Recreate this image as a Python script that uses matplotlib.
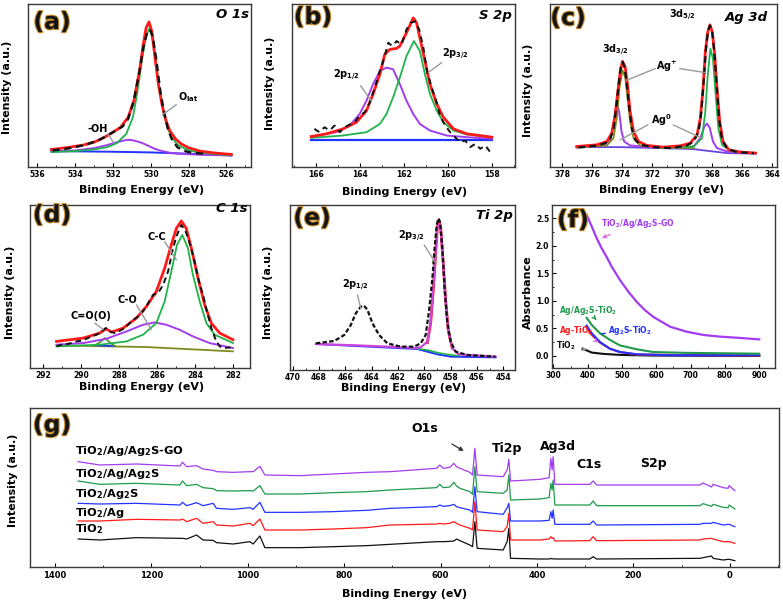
import matplotlib
matplotlib.use('Agg')
import matplotlib.pyplot as plt
import matplotlib.patheffects as pe
from matplotlib.ticker import MultipleLocator, FormatStrFormatter

# ---------------- data ----------------
# (a) O 1s
a_env_e = [535.26, 534.5, 533.6, 533.0, 532.5, 532.0, 531.6, 531.2, 530.9, 530.6, 530.4, 530.25, 530.1, 529.95, 529.8, 529.6, 529.4, 529.2, 529.0, 528.7, 528.4, 528.0, 527.4, 526.6, 525.74]
a_env_i = [53, 58, 66, 75, 88, 105, 120, 150, 200, 290, 370, 420, 438, 410, 340, 250, 185, 140, 110, 85, 70, 58, 48, 42, 38]
a_lat_e = [535.26, 534.0, 533.0, 532.3, 531.8, 531.3, 530.95, 530.7, 530.45, 530.25, 530.06, 529.9, 529.7, 529.5, 529.3, 529.1, 528.9, 528.6, 528.2, 527.6, 526.8, 525.74]
a_lat_i = [45, 48, 53, 60, 72, 100, 150, 230, 330, 395, 420, 385, 300, 220, 160, 115, 90, 68, 55, 45, 40, 35]
a_oh_e = [535.26, 534.0, 533.0, 532.4, 531.9, 531.5, 531.25, 531.0, 530.7, 530.4, 530.1, 529.8, 529.4, 529.0, 528.5, 527.8, 526.8, 525.74]
a_oh_i = [46, 50, 57, 65, 73, 79, 82, 81, 77, 71, 63, 55, 48, 43, 40, 38, 36, 35]
a_bg_e = [535.26, 532.0, 530.0, 528.0, 525.74]
a_bg_i = [48, 46, 44, 40, 35]
a_raw_e = [535.2, 534.6, 534.0, 533.4, 532.8, 532.3, 531.8, 531.5, 531.2, 530.9, 530.6, 530.4, 530.2, 530.05, 529.9, 529.7, 529.5, 529.3, 529.1, 528.9, 528.6, 528.3, 528.0, 527.6, 527.2]
a_raw_i = [50, 54, 60, 68, 80, 95, 112, 122, 145, 200, 290, 360, 405, 415, 395, 320, 230, 165, 115, 85, 60, 50, 45, 42, 40]

# (b) S 2p
b_env_e = [166.23, 165.54, 164.78, 164.17, 163.71, 163.41, 163.10, 162.88, 162.65, 162.34, 162.19, 161.89, 161.58, 161.43, 161.28, 161.05, 160.82, 160.51, 160.21, 159.75, 159.14, 158.0]
b_env_i = [92, 100, 115, 135, 170, 220, 280, 340, 355, 358, 365, 405, 450, 435, 390, 320, 250, 190, 150, 115, 100, 90]
b_p32_e = [166.23, 164.78, 163.71, 163.10, 162.8, 162.5, 162.19, 161.89, 161.55, 161.28, 161.05, 160.82, 160.51, 160.21, 159.75, 159.14, 158.0]
b_p32_i = [88, 95, 105, 130, 160, 210, 270, 335, 380, 350, 280, 220, 170, 135, 110, 98, 90]
b_p12_e = [166.23, 165.09, 164.48, 164.02, 163.71, 163.41, 163.10, 162.8, 162.5, 162.19, 161.89, 161.58, 161.28, 160.82, 160.06, 159.14, 158.0]
b_p12_i = [92, 105, 125, 160, 200, 250, 290, 300, 295, 250, 200, 160, 130, 110, 95, 90, 85]
b_bg_e = [166.23, 158.0]
b_bg_i = [80, 80]
b_raw_e = [166.08, 165.85, 165.62, 165.39, 165.16, 164.93, 164.70, 164.48, 164.25, 164.02, 163.79, 163.56, 163.33, 163.10, 162.92, 162.72, 162.53, 162.34, 162.11, 161.89, 161.70, 161.50, 161.31, 161.12, 160.94, 160.74, 160.54, 160.36, 160.13, 159.90, 159.68, 159.45, 159.22, 158.99, 158.76, 158.53, 158.30, 158.08]
b_raw_i = [115, 105, 120, 110, 125, 105, 120, 128, 135, 155, 165, 195, 240, 290, 325, 375, 365, 380, 370, 415, 435, 440, 415, 360, 285, 240, 200, 155, 125, 105, 90, 75, 80, 60, 70, 55, 65, 45]

# (c) Ag 3d
c_env_e = [377.02, 375.69, 375.02, 374.69, 374.47, 374.29, 374.13, 373.98, 373.8, 373.64, 373.47, 373.24, 372.91, 372.36, 371.24, 370.13, 369.47, 369.02, 368.8, 368.62, 368.47, 368.31, 368.16, 368.0, 367.84, 367.69, 367.51, 367.29, 366.91, 366.13, 365.13]
c_env_i = [65, 70, 80, 105, 160, 230, 290, 322, 305, 250, 170, 110, 80, 68, 63, 67, 75, 100, 150, 240, 350, 410, 432, 410, 340, 240, 140, 80, 55, 48, 45]
c_agp1_e = [377.02, 375.02, 374.58, 374.36, 374.18, 373.98, 373.8, 373.64, 373.47, 373.24, 372.8, 371.24, 369.24]
c_agp1_i = [62, 68, 90, 150, 240, 295, 275, 210, 140, 90, 68, 62, 60]
c_agp2_e = [371.47, 369.24, 368.69, 368.47, 368.31, 368.13, 367.96, 367.78, 367.6, 367.36, 366.8, 365.13]
c_agp2_i = [60, 65, 90, 170, 280, 360, 330, 220, 120, 70, 52, 45]
c_ag0_e = [377.02, 375.24, 374.8, 374.58, 374.42, 374.33, 374.2, 374.04, 373.87, 373.47, 371.91, 370.13, 369.24, 368.8, 368.53, 368.36, 368.18, 367.96, 367.69, 367.02, 365.13]
c_ag0_i = [62, 68, 85, 130, 180, 192, 170, 110, 80, 68, 62, 60, 65, 90, 125, 134, 122, 80, 60, 50, 45]
c_bg_e = [377.02, 374.13, 371.47, 369.24, 368.36, 367.02, 365.13]
c_bg_i = [63, 63, 60, 57, 52, 45, 43]
c_raw_e = [376.91, 376.36, 375.69, 375.13, 374.8, 374.58, 374.4, 374.24, 374.09, 373.96, 373.82, 373.69, 373.53, 373.36, 373.13, 372.8, 371.91, 370.8, 369.69, 369.24, 368.91, 368.73, 368.58, 368.42, 368.29, 368.16, 368.02, 367.87, 367.71, 367.56, 367.36, 367.02, 366.36, 365.24]
c_raw_i = [62, 64, 68, 75, 88, 115, 180, 250, 305, 320, 300, 250, 180, 120, 85, 70, 63, 60, 68, 80, 110, 170, 260, 360, 415, 430, 415, 350, 250, 150, 85, 58, 48, 45]

# (d) C 1s
d_env_e = [291.30, 289.89, 289.02, 288.70, 288.40, 287.79, 287.09, 286.56, 286.04, 285.60, 285.25, 284.98, 284.72, 284.46, 284.19, 283.84, 283.49, 283.14, 282.70, 282.0]
d_env_i = [80, 90, 105, 118, 108, 120, 150, 185, 230, 300, 370, 420, 442, 420, 360, 270, 190, 135, 105, 85]
d_cc_e = [291.30, 289.02, 287.61, 286.74, 286.04, 285.60, 285.25, 284.95, 284.67, 284.37, 284.11, 283.75, 283.40, 282.96, 282.0]
d_cc_i = [65, 70, 80, 100, 135, 200, 290, 370, 400, 360, 280, 200, 135, 100, 75]
d_co_e = [291.30, 289.89, 288.67, 287.61, 286.74, 286.12, 285.51, 284.81, 284.11, 283.23, 282.0]
d_co_i = [70, 75, 88, 110, 130, 137, 130, 115, 95, 75, 60]
d_coo_e = [289.28, 289.02, 288.75, 288.49, 288.23]
d_coo_i = [68, 77, 90, 77, 66]
d_blue_e = [289.28, 288.23]
d_blue_i = [68, 66]
d_bg_e = [291.30, 286.56, 282.0]
d_bg_i = [68, 63, 50]
d_raw_e = [291.30, 291.04, 290.77, 290.51, 290.25, 289.98, 289.72, 289.46, 289.19, 288.93, 288.70, 288.49, 288.23, 287.96, 287.70, 287.44, 287.26, 287.0, 286.74, 286.47, 286.21, 285.95, 285.68, 285.42, 285.16, 284.95, 284.72, 284.49, 284.25, 284.02, 283.79, 283.58, 283.37, 283.14, 282.91, 282.70, 282.44, 282.18, 282.0]
d_raw_i = [65, 70, 72, 75, 80, 82, 88, 95, 100, 110, 120, 110, 105, 112, 120, 135, 145, 155, 170, 195, 220, 225, 250, 290, 360, 400, 430, 410, 370, 320, 260, 220, 170, 120, 85, 65, 60, 62, 55]

# (e) Ti 2p
e_raw_e = [468.23, 466.84, 466.08, 465.58, 465.2, 464.82, 464.57, 464.31, 463.93, 463.43, 462.8, 461.78, 460.77, 460.27, 459.89, 459.64, 459.38, 459.21, 459.05, 458.93, 458.8, 458.62, 458.45, 458.25, 457.99, 457.61, 456.73, 454.58]
e_raw_i = [80, 87, 105, 135, 170, 190, 193, 180, 140, 105, 80, 70, 70, 80, 105, 175, 275, 365, 435, 455, 445, 365, 245, 145, 85, 55, 45, 40]
e_fit_e = [468.23, 465.2, 462.8, 460.77, 460.27, 459.76, 459.51, 459.31, 459.13, 459.0, 458.88, 458.75, 458.57, 458.37, 458.17, 457.87, 457.36, 454.58]
e_fit_i = [78, 74, 70, 66, 68, 85, 145, 245, 355, 425, 440, 425, 325, 205, 115, 65, 47, 40]
e_red_e = [459.76, 459.51, 459.31, 459.13, 459.0, 458.88, 458.75, 458.57, 458.37, 458.17, 457.87]
e_red_i = [82, 140, 240, 350, 430, 447, 430, 330, 210, 118, 66]
e_bg_e = [468.23, 460.52, 459.76, 459.0, 457.99, 454.58]
e_bg_i = [78, 63, 55, 47, 40, 38]
e_grn_e = [460.52, 459.76, 459.0, 458.0, 457.36]
e_grn_i = [64, 60, 52, 45, 43]

# (f) absorbance
f_go_wl = [397, 412, 426, 441, 455, 470, 494, 518, 543, 567, 591, 640, 688, 737, 785, 834, 900]
f_go = [2.56, 2.35, 2.14, 1.95, 1.80, 1.62, 1.38, 1.17, 0.98, 0.83, 0.71, 0.53, 0.44, 0.38, 0.35, 0.33, 0.30]
f_agag2s_wl = [397, 412, 436, 465, 494, 543, 591, 688, 900]
f_agag2s = [0.69, 0.56, 0.41, 0.29, 0.19, 0.12, 0.07, 0.055, 0.04]
f_ag2s_wl = [397, 412, 436, 465, 494, 543, 640, 900]
f_ag2s = [0.55, 0.41, 0.25, 0.13, 0.07, 0.03, 0.012, 0.01]
f_ag_wl = [397, 412, 436, 465, 494, 543, 900]
f_ag = [0.51, 0.38, 0.24, 0.13, 0.07, 0.024, 0.006]
f_tio2_wl = [385, 397, 412, 446, 494, 591, 900]
f_tio2 = [0.13, 0.10, 0.06, 0.036, 0.018, 0.006, 0.0]

# (g) survey spectra
g_energy = [1352, 1307, 1231, 1141, 1135.5, 1127, 1106.5, 1093, 1072, 1065, 1030.5, 996, 989, 975, 964.7, 892, 823, 754, 705,
            608.5, 601.7, 594.8, 581, 572.6, 567, 560, 539.4, 533.8, 529, 524.3, 470.3, 462, 458.5, 455, 394, 375, 371.4,
            368.7, 366.6, 363, 290.5, 283.6, 276.6, 62.2, 55.4, 38, 34.6, 13.9, 3.5, 1.5, -10.4]
g_go = [320, 310, 313, 307, 318, 305, 308, 298, 294, 290, 288, 290, 290, 306, 280, 278, 283, 288, 290, 300, 310, 300, 303, 315, 305,
        300, 288, 280, 360, 280, 275, 295, 327, 262, 267, 272, 330, 295, 335, 252, 252, 262, 250, 250, 256, 244, 252, 242, 240, 248, 233]
g_ag_ag2s = [262, 252, 255, 250, 262, 248, 252, 242, 239, 233, 232, 233, 232, 248, 223, 223, 227, 230, 235, 242, 252, 242, 244, 258, 247,
             240, 230, 222, 305, 230, 225, 235, 280, 205, 208, 212, 255, 235, 265, 190, 190, 202, 188, 188, 194, 186, 192, 183, 182, 190, 178]
g_ag2s = [195, 193, 195, 190, 198, 188, 197, 188, 195, 180, 177, 182, 177, 198, 168, 168, 170, 174, 180, 185, 190, 186, 188, 192, 185,
          182, 175, 168, 245, 170, 162, 182, 195, 142, 142, 144, 170, 150, 175, 132, 132, 142, 130, 132, 135, 135, 138, 130, 132, 132, 125]
g_ag = [142, 142, 147, 145, 148, 140, 150, 135, 140, 130, 127, 135, 128, 148, 115, 115, 118, 122, 130, 133, 135, 133, 135, 140, 135,
        130, 120, 115, 200, 115, 110, 125, 165, 85, 85, 88, 95, 90, 92, 82, 83, 95, 83, 85, 88, 90, 88, 80, 80, 80, 75]
g_tio2 = [88, 85, 92, 90, 90, 88, 100, 85, 84, 77, 73, 80, 73, 97, 62, 62, 65, 68, 72, 80, 80, 80, 81, 82, 88,
          83, 70, 65, 140, 60, 55, 80, 120, 30, 28, 28, 30, 28, 29, 28, 28, 35, 28, 30, 32, 37, 30, 25, 27, 27, 23]
g_names = ['TiO$_2$/Ag/Ag$_2$S-GO', 'TiO$_2$/Ag/Ag$_2$S', 'TiO$_2$/Ag$_2$S', 'TiO$_2$/Ag', 'TiO$_2$']

# ---------------- style ----------------
plt.rcParams.update({
    'font.family': ['DejaVu Sans'], 'font.weight': 'bold',
    'mathtext.fontset': 'dejavusans', 'mathtext.default': 'bf',
    'axes.linewidth': 1.0, 'axes.edgecolor': '#3a3a3a',
})
RED = '#ff1a1a'; GREEN = '#1fb24a'; PURPLE = '#a23cf0'; BLUE = '#2233ff'
OLIVE = '#7f8a1c'; MAGENTA = '#cc44dd'; GRAY = '#9a9a9a'; BLACK = '#111111'

W, H = 783, 604
fig = plt.figure(figsize=(W / 100, H / 100), dpi=100)


def make_ax(box, xlim, ylim, major, minor, yticks=False):
    L, T, R, B = box
    ax = fig.add_axes([L / W, 1 - B / H, (R - L) / W, (B - T) / H])
    ax.set_xlim(*xlim)
    ax.set_ylim(*ylim)
    ax.xaxis.set_major_locator(MultipleLocator(major))
    ax.xaxis.set_minor_locator(MultipleLocator(minor))
    ax.tick_params(axis='x', which='major', direction='in', length=3, width=0.8, labelsize=5.5, pad=2.5)
    ax.tick_params(axis='x', which='minor', direction='in', length=1.5, width=0.6)
    if not yticks:
        ax.set_yticks([])
    return ax


def fr(box, x, y):
    L, T, R, B = box
    return ((x - L) / (R - L), (B - y) / (B - T))


def labels(ax, box, xl, yl, xtext='Binding Energy (eV)', ytext='Intensity (a.u.)'):
    if xl is not None:
        ax.set_xlabel(xtext, fontsize=8, fontweight='bold')
        ax.xaxis.set_label_coords(*fr(box, *xl))
        ax.xaxis.label.set_va('center')
    ax.set_ylabel(ytext, fontsize=8, fontweight='bold')
    ax.yaxis.set_label_coords(*fr(box, *yl))
    ax.yaxis.label.set_va('center')


def letter(ax, box, txt, x, y):
    ax.text(*fr(box, x, y), txt, transform=ax.transAxes, fontsize=17, fontweight='bold',
            color='#151515', ha='center', va='center', zorder=10,
            path_effects=[pe.withStroke(linewidth=1.6, foreground='#c8902e')])


def title(ax, box, txt, x, y):
    ax.text(*fr(box, x, y), txt, transform=ax.transAxes, fontsize=9.5, fontweight='bold',
            fontstyle='italic', ha='right', va='center', zorder=10)


def note(ax, txt, xy, xytext, fs=7, color='black', lc=GRAY, arrow='-'):
    ax.annotate(txt, xy=xy, xytext=xytext, fontsize=fs, fontweight='bold', color=color,
                ha='center', va='center', zorder=12,
                arrowprops=dict(arrowstyle=arrow, color=lc, lw=1.0, shrinkA=4, shrinkB=0))


def leader(ax, p0, p1, lc=GRAY, arrow='-'):
    ax.annotate('', xy=p1, xytext=p0, zorder=11,
                arrowprops=dict(arrowstyle=arrow, color=lc, lw=1.0, shrinkA=0, shrinkB=0))


# ---------------- (a) ----------------
box_a = (28, 4, 251, 167)
ax = make_ax(box_a, (536.5, 524.7), (0, 492), 2, 1)
ax.plot(a_bg_e, a_bg_i, color=BLUE, lw=1.4)
ax.plot(a_oh_e, a_oh_i, color=PURPLE, lw=1.4)
ax.plot(a_lat_e, a_lat_i, color=GREEN, lw=1.3)
ax.plot(a_env_e, a_env_i, color=RED, lw=2.0)
ax.plot(a_raw_e, a_raw_i, color=BLACK, lw=1.7, ls=(0, (3, 2)))
ax.text(532.79, 115, '-OH', fontsize=7, fontweight='bold', ha='center', va='center')
leader(ax, (532.26, 100), (531.96, 72))
ax.text(528.03, 210, 'O$_{lat}$', fontsize=7, fontweight='bold', ha='center', va='center')
leader(ax, (528.65, 188), (529.39, 158))
labels(ax, box_a, (142, 190), (7, 87))
letter(ax, box_a, '(a)', 52, 22)
title(ax, box_a, 'O 1s', 249, 15)

# ---------------- (b) ----------------
box_b = (292, 4, 515, 167)
ax = make_ax(box_b, (167.1, 156.95), (0, 492), 2, 1)
ax.plot(b_bg_e, b_bg_i, color=BLUE, lw=1.6)
ax.plot(b_p12_e, b_p12_i, color=PURPLE, lw=1.4)
ax.plot(b_p32_e, b_p32_i, color=GREEN, lw=1.3)
ax.plot(b_env_e, b_env_i, color=RED, lw=2.0)
ax.plot(b_raw_e, b_raw_i, color=BLACK, lw=1.4, ls=(0, (3, 2.5)))
ax.text(164.6, 275, '2p$_{1/2}$', fontsize=7, fontweight='bold', ha='center', va='center')
leader(ax, (163.98, 245), (163.49, 200))
ax.text(159.68, 340, '2p$_{3/2}$', fontsize=7, fontweight='bold', ha='center', va='center')
leader(ax, (160.29, 315), (160.9, 285))
labels(ax, box_b, (405, 192), (270, 83))
letter(ax, box_b, '(b)', 313, 17)
title(ax, box_b, 'S 2p', 512, 15)

# ---------------- (c) ----------------
box_c = (550, 4, 777, 167)
ax = make_ax(box_c, (378.8, 363.7), (3, 495), 2, 1)
ax.plot(c_bg_e, c_bg_i, color='#6a44e0', lw=1.3)
ax.plot(c_ag0_e, c_ag0_i, color=PURPLE, lw=1.4)
ax.plot(c_agp1_e, c_agp1_i, color=OLIVE, lw=1.3)
ax.plot(c_agp2_e, c_agp2_i, color=GREEN, lw=1.3)
ax.plot(c_env_e, c_env_i, color=RED, lw=2.0)
ax.plot(c_raw_e, c_raw_i, color=BLACK, lw=1.6, ls=(0, (3, 2)))
ax.text(374.47, 355, '3d$_{3/2}$', fontsize=7, fontweight='bold', ha='center', va='center')
ax.text(369.98, 460, '3d$_{5/2}$', fontsize=7, fontweight='bold', ha='center', va='center')
ax.text(371.02, 305, 'Ag$^{+}$', fontsize=7, fontweight='bold', ha='center', va='center')
leader(ax, (371.8, 300), (373.69, 265))
leader(ax, (370.18, 300), (368.47, 288))
ax.text(371.4, 145, 'Ag$^{0}$', fontsize=7, fontweight='bold', ha='center', va='center')
leader(ax, (372.3, 130), (374.13, 85))
leader(ax, (370.6, 130), (368.62, 88))
labels(ax, box_c, (662, 190), (528, 90))
letter(ax, box_c, '(c)', 568, 18)
title(ax, box_c, 'Ag 3d', 768, 17)

# ---------------- (d) ----------------
box_d = (30, 205, 250, 368)
ax = make_ax(box_d, (292.7, 281.1), (0, 490), 2, 1)
ax.plot(d_bg_e, d_bg_i, color=OLIVE, lw=1.3)
ax.plot(d_blue_e, d_blue_i, color=BLUE, lw=1.2)
ax.plot(d_coo_e, d_coo_i, color='#4a9a2a', lw=1.3)
ax.plot(d_co_e, d_co_i, color=PURPLE, lw=1.4)
ax.plot(d_cc_e, d_cc_i, color=GREEN, lw=1.3)
ax.plot(d_env_e, d_env_i, color=RED, lw=2.0)
ax.plot(d_raw_e, d_raw_i, color=BLACK, lw=1.4, ls=(0, (3, 2)))
ax.text(286.0, 395, 'C-C', fontsize=7, fontweight='bold', ha='center', va='center')
leader(ax, (285.6, 380), (284.98, 325))
ax.text(287.58, 205, 'C-O', fontsize=7, fontweight='bold', ha='center', va='center')
leader(ax, (287.09, 190), (286.3, 115))
ax.text(289.51, 155, 'C=O(O)', fontsize=7, fontweight='bold', ha='center', va='center')
leader(ax, (289.28, 135), (288.84, 115))
labels(ax, box_d, (142, 387), (10, 292))
letter(ax, box_d, '(d)', 52, 215)
title(ax, box_d, 'C 1s', 247, 208)

# ---------------- (e) ----------------
box_e = (290, 205, 515, 370)
ax = make_ax(box_e, (470.2, 453.1), (0, 495), 2, 1)
ax.plot(e_bg_e, e_bg_i, color=BLUE, lw=1.4)
ax.plot(e_grn_e, e_grn_i, color=GREEN, lw=1.2)
ax.plot(e_red_e, e_red_i, color=RED, lw=2.0)
ax.plot(e_fit_e, e_fit_i, color=MAGENTA, lw=1.6)
ax.plot(e_raw_e, e_raw_i, color=BLACK, lw=1.6, ls=(0, (2, 1)))
ax.text(460.98, 400, '2p$_{3/2}$', fontsize=7, fontweight='bold', ha='center', va='center')
leader(ax, (460.0, 375), (459.2, 325))
ax.text(465.2, 255, '2p$_{1/2}$', fontsize=7, fontweight='bold', ha='center', va='center')
leader(ax, (465.07, 225), (464.82, 185))
labels(ax, box_e, (404, 388), (268, 292))
letter(ax, box_e, '(e)', 312, 218)
title(ax, box_e, 'Ti 2p', 513, 215)

# ---------------- (f) ----------------
box_f = (552, 205, 775, 368)
ax = make_ax(box_f, (296, 946), (-0.22, 2.74), 100, 50, yticks=True)
ax.yaxis.set_major_locator(MultipleLocator(0.5))
ax.yaxis.set_minor_locator(MultipleLocator(0.25))
ax.yaxis.set_major_formatter(FormatStrFormatter('%.1f'))
ax.tick_params(axis='y', which='major', direction='in', length=3, width=0.8, labelsize=5.5, pad=2)
ax.tick_params(axis='y', which='minor', direction='in', length=1.5, width=0.6)
ax.plot(f_tio2_wl, f_tio2, color=BLACK, lw=1.5)
ax.plot(f_ag_wl, f_ag, color=RED, lw=1.5)
ax.plot(f_ag2s_wl, f_ag2s, color=BLUE, lw=1.5)
ax.plot(f_agag2s_wl, f_agag2s, color='#1e9a4a', lw=1.5)
ax.plot(f_go_wl, f_go, color=PURPLE, lw=1.6)
note(ax, 'TiO$_2$/Ag/Ag$_2$S-GO', (441, 2.14), (545, 2.41), fs=5.5, color=PURPLE, lc='#e070e0', arrow='->')
note(ax, 'Ag/Ag$_2$S-TiO$_2$', (425, 0.65), (402, 0.83), fs=5.5, color='#1e9a4a', lc='#1e9a4a', arrow='->')
note(ax, 'Ag$_2$S-TiO$_2$', (440, 0.40), (523, 0.47), fs=5.5, color=BLUE, lc=BLUE, arrow='-')
note(ax, 'Ag-TiO$_2$', (431, 0.25), (365, 0.47), fs=5.5, color=RED, lc='#e070e0', arrow='->')
note(ax, 'TiO$_2$', (397, 0.11), (336, 0.19), fs=5.5, color=BLACK, lc=GRAY, arrow='->')
ax.set_ylabel('Absorbance', fontsize=8, fontweight='bold')
ax.yaxis.set_label_coords(*fr(box_f, 528, 292))
ax.yaxis.label.set_va('center')
letter(ax, box_f, '(f)', 573, 220)

# ---------------- (g) ----------------
box_g = (30, 408, 779, 567)
ax = make_ax(box_g, (1452, -102), (4, 481), 200, 100)
ax.tick_params(axis='x', which='major', labelsize=6, pad=3)
g_series = [g_tio2, g_ag, g_ag2s, g_ag_ag2s, g_go]
g_colors = [BLACK, RED, BLUE, '#1e9a4a', PURPLE]
for vals, col in zip(g_series, g_colors):
    ax.plot(g_energy, vals, color=col, lw=0.9)
g_label_y = [352, 282, 222, 167, 118]
for name, yy in zip(g_names, g_label_y):
    ax.text(1358, yy, name, fontsize=8.2, fontweight='bold', ha='left', va='center')
ax.annotate('O1s', xy=(552, 352), xytext=(632, 420), fontsize=9, fontweight='bold', ha='center', va='center',
            arrowprops=dict(arrowstyle='-|>', color='#333333', lw=0.9, mutation_scale=6, shrinkA=9, shrinkB=0))
ax.text(463, 360, 'Ti2p', fontsize=9, fontweight='bold', ha='center', va='center')
ax.text(356, 365, 'Ag3d', fontsize=9, fontweight='bold', ha='center', va='center')
ax.text(292, 310, 'C1s', fontsize=9, fontweight='bold', ha='center', va='center')
ax.text(159, 315, 'S2p', fontsize=9, fontweight='bold', ha='center', va='center')
labels(ax, box_g, (405, 594), (13, 480))
letter(ax, box_g, '(g)', 52, 425)

fig.savefig('out.png', dpi=100)
